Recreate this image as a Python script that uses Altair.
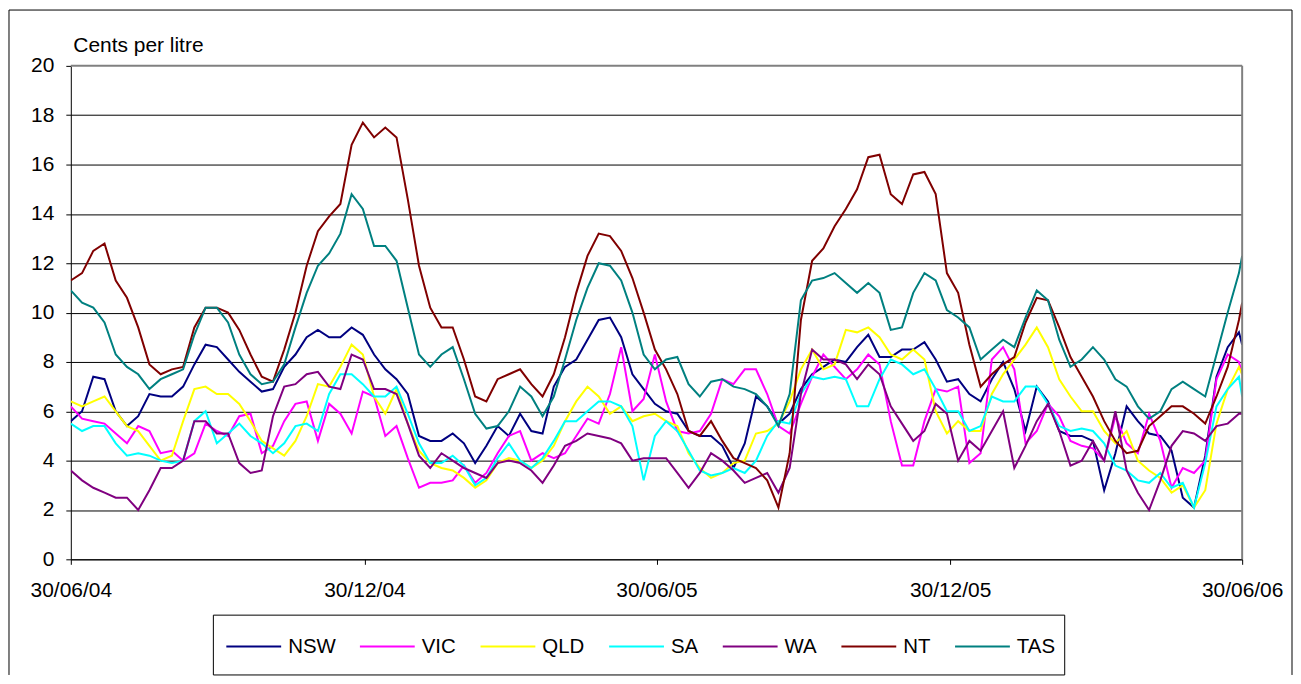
import altair as alt
import pandas as pd

# weekly readings from 30/06/2004, plus the final day 30/06/2006
dates = list(pd.date_range("2004-06-30", periods=105, freq="7D").strftime("%Y-%m-%d")) + ["2006-06-30"]

NSW = [5.6, 6.0, 7.4, 7.3, 6.0, 5.4, 5.8, 6.7, 6.6, 6.6, 7.0, 7.9, 8.7, 8.6, 8.1, 7.6, 7.2, 6.8, 6.9, 7.8,
       8.3, 9.0, 9.3, 9.0, 9.0, 9.4, 9.1, 8.3, 7.7, 7.3, 6.7, 5.0, 4.8, 4.8, 5.1, 4.7, 3.9, 4.6, 5.4, 5.0,
       5.9, 5.2, 5.1, 7.0, 7.8, 8.1, 8.9, 9.7, 9.8, 9.0, 7.5, 6.9, 6.3, 6.0, 5.9, 5.2, 5.0, 5.0, 4.6, 3.7,
       4.7, 6.6, 6.2, 5.5, 5.9, 6.9, 7.5, 7.8, 8.1, 8.0, 8.6, 9.1, 8.2, 8.2, 8.5, 8.5, 8.8, 8.1, 7.2, 7.3,
       6.7, 6.4, 7.3, 8.0, 6.9, 5.2, 7.0, 6.4, 5.2, 5.0, 5.0, 4.8, 2.8, 4.3, 6.2, 5.6, 5.1, 5.0, 4.4, 2.5,
       2.1, 4.2, 7.4, 8.6, 9.2, 8.7]
VIC = [6.2, 5.7, 5.6, 5.5, 5.1, 4.7, 5.4, 5.2, 4.3, 4.4, 4.0, 4.3, 5.5, 5.2, 5.0, 5.8, 5.9, 4.3, 4.6, 5.6,
       6.3, 6.4, 4.8, 6.3, 5.9, 5.1, 6.8, 6.6, 5.0, 5.4, 4.1, 2.9, 3.1, 3.1, 3.2, 3.8, 3.1, 3.5, 4.3, 5.0,
       5.2, 4.0, 4.3, 4.1, 4.3, 5.0, 5.7, 5.5, 6.7, 8.6, 6.0, 6.5, 8.3, 6.4, 5.2, 5.1, 5.2, 5.9, 7.3, 7.1,
       7.7, 7.7, 6.7, 5.4, 5.1, 6.3, 7.4, 8.3, 7.8, 7.3, 7.7, 8.3, 7.9, 5.6, 3.8, 3.8, 5.6, 6.9, 6.8, 7.0,
       3.9, 4.3, 8.1, 8.6, 7.7, 4.7, 5.2, 6.3, 5.8, 4.8, 4.6, 4.5, 4.0, 5.8, 4.7, 4.3, 5.9, 4.8, 2.9, 3.7,
       3.5, 4.0, 7.3, 8.3, 8.0, 7.5]
QLD = [6.4, 6.2, 6.4, 6.6, 6.0, 5.4, 5.2, 4.6, 4.0, 4.2, 5.6, 6.9, 7.0, 6.7, 6.7, 6.3, 5.6, 4.8, 4.5, 4.2,
       4.8, 5.8, 7.1, 7.0, 7.8, 8.7, 8.3, 6.6, 5.9, 6.9, 5.5, 4.4, 3.9, 3.7, 3.6, 3.3, 2.9, 3.2, 3.9, 4.1,
       4.0, 3.7, 4.0, 4.6, 5.6, 6.4, 7.0, 6.6, 5.9, 6.2, 5.6, 5.8, 5.9, 5.6, 5.4, 4.3, 3.7, 3.3, 3.5, 3.9,
       4.0, 5.1, 5.2, 5.5, 6.4, 7.7, 8.5, 7.7, 7.9, 9.3, 9.2, 9.4, 9.0, 8.3, 8.1, 8.5, 8.1, 6.0, 5.1, 5.6,
       5.2, 5.2, 6.7, 7.5, 8.1, 8.7, 9.4, 8.6, 7.3, 6.6, 6.0, 6.0, 5.2, 4.7, 5.2, 4.0, 3.6, 3.3, 2.7, 3.0,
       2.1, 2.8, 5.5, 6.9, 7.8, 7.5]
SA = [5.5, 5.2, 5.4, 5.4, 4.7, 4.2, 4.3, 4.2, 4.0, 3.9, 4.0, 5.6, 6.0, 4.7, 5.1, 5.5, 5.0, 4.7, 4.3, 4.7,
      5.4, 5.5, 5.2, 6.7, 7.5, 7.5, 7.1, 6.6, 6.6, 7.0, 5.9, 4.7, 3.9, 3.9, 4.2, 3.8, 3.0, 3.3, 4.1, 4.7,
      4.0, 3.7, 4.1, 4.8, 5.6, 5.6, 6.0, 6.4, 6.4, 6.2, 5.4, 3.2, 5.0, 5.6, 5.2, 4.4, 3.6, 3.4, 3.5, 3.7,
      3.5, 4.0, 5.0, 5.6, 5.5, 6.7, 7.4, 7.3, 7.4, 7.3, 6.2, 6.2, 7.3, 8.1, 7.9, 7.5, 7.7, 6.9, 6.0, 6.0,
      5.2, 5.4, 6.6, 6.4, 6.4, 7.0, 7.0, 6.3, 5.4, 5.2, 5.3, 5.2, 4.7, 3.8, 3.6, 3.2, 3.1, 3.5, 2.9, 3.1,
      2.1, 3.9, 6.2, 6.9, 7.4, 6.6]
WA = [3.6, 3.2, 2.9, 2.7, 2.5, 2.5, 2.0, 2.8, 3.7, 3.7, 4.0, 5.6, 5.6, 5.1, 5.1, 3.9, 3.5, 3.6, 5.8, 7.0,
      7.1, 7.5, 7.6, 7.0, 6.9, 8.3, 8.1, 6.9, 6.9, 6.7, 5.5, 4.2, 3.7, 4.3, 4.0, 3.7, 3.5, 3.3, 3.9, 4.0,
      3.9, 3.6, 3.1, 3.8, 4.6, 4.8, 5.1, 5.0, 4.9, 4.7, 4.0, 4.1, 4.1, 4.1, 3.5, 2.9, 3.5, 4.3, 4.0, 3.6,
      3.1, 3.3, 3.5, 2.7, 3.7, 6.7, 8.5, 8.1, 8.1, 7.9, 7.3, 7.9, 7.5, 6.2, 5.5, 4.8, 5.2, 6.3, 5.9, 4.0,
      4.8, 4.4, 5.2, 6.0, 3.7, 4.6, 5.6, 6.3, 5.2, 3.8, 4.0, 4.8, 4.0, 6.0, 3.6, 2.7, 2.0, 3.2, 4.6, 5.2,
      5.1, 4.8, 5.4, 5.5, 5.9, 5.9]
NT = [11.3, 11.6, 12.5, 12.8, 11.3, 10.6, 9.4, 7.9, 7.5, 7.7, 7.8, 9.4, 10.2, 10.2, 10.0, 9.3, 8.3, 7.4, 7.2, 8.5,
      10.0, 11.9, 13.3, 13.9, 14.4, 16.8, 17.7, 17.1, 17.5, 17.1, 14.6, 11.9, 10.2, 9.4, 9.4, 8.1, 6.6, 6.4, 7.3, 7.5,
      7.7, 7.1, 6.6, 7.5, 9.0, 10.8, 12.3, 13.2, 13.1, 12.5, 11.4, 10.0, 8.5, 7.7, 6.7, 5.2, 5.0, 5.6, 4.8, 4.1,
      3.9, 3.7, 3.2, 2.1, 4.3, 9.7, 12.1, 12.6, 13.5, 14.2, 15.0, 16.3, 16.4, 14.8, 14.4, 15.6, 15.7, 14.8, 11.6, 10.8,
      8.7, 7.0, 7.5, 7.9, 8.2, 9.6, 10.6, 10.5, 9.4, 8.2, 7.4, 6.6, 5.6, 4.8, 4.3, 4.4, 5.4, 5.8, 6.2, 6.2,
      5.9, 5.5, 6.6, 7.8, 9.7, 10.4]
TAS = [10.9, 10.4, 10.2, 9.6, 8.3, 7.8, 7.5, 6.9, 7.3, 7.5, 7.7, 9.1, 10.2, 10.2, 9.6, 8.3, 7.5, 7.1, 7.2, 7.9,
       9.4, 10.8, 11.9, 12.4, 13.2, 14.8, 14.2, 12.7, 12.7, 12.1, 10.2, 8.3, 7.8, 8.3, 8.6, 7.3, 5.9, 5.3, 5.4, 6.0,
       7.0, 6.6, 5.8, 6.6, 8.1, 9.7, 11.0, 12.0, 11.9, 11.3, 10.0, 8.3, 7.7, 8.1, 8.2, 7.1, 6.6, 7.2, 7.3, 7.0,
       6.9, 6.7, 6.2, 5.4, 6.7, 10.5, 11.3, 11.4, 11.6, 11.2, 10.8, 11.2, 10.8, 9.3, 9.4, 10.8, 11.6, 11.3, 10.1, 9.8,
       9.4, 8.1, 8.5, 8.9, 8.6, 9.8, 10.9, 10.5, 8.9, 7.8, 8.1, 8.6, 8.1, 7.3, 7.0, 6.2, 5.7, 6.0, 6.9, 7.2,
       6.9, 6.6, 8.3, 10.0, 11.6, 12.3]

series = ["NSW", "VIC", "QLD", "SA", "WA", "NT", "TAS"]
colors = ["#000080", "#FF00FF", "#FFFF00", "#00FFFF", "#800080", "#800000", "#008080"]
values = [NSW, VIC, QLD, SA, WA, NT, TAS]

y_ticks = list(range(0, 21, 2))
x_ticks = ["2004-06-30", "2004-12-30", "2005-06-30", "2005-12-30", "2006-06-30"]

rows = []
for name, vals in zip(series, values):
    for d, v in zip(dates, vals):
        rows.append({"date": d, "state": name, "value": v})
df = pd.DataFrame(rows)

W, H = 1175, 495
FONT = "Liberation Sans"
FS = 21


def dt(s):
    y, m, d = (int(p) for p in s.split("-"))
    return alt.DateTime(year=y, month=m, date=d, utc=True)


lines = alt.Chart(df).mark_line(strokeWidth=2, clip=True).encode(
    x=alt.X(
        "date:T",
        scale=alt.Scale(type="utc", domain=[dt(x_ticks[0]), dt(x_ticks[-1])]),
        axis=alt.Axis(
            values=[dt(s) for s in x_ticks],
            labelExpr="utcFormat(datum.value, '%d/%m/%y')",
            title=None,
            grid=False,
            domainColor="black",
            domainWidth=1,
            tickColor="black",
            tickSize=5,
            labelFont=FONT,
            labelFontSize=FS,
            labelColor="black",
            labelPadding=15,
            labelAngle=0,
            labelFlush=False,
            labelOverlap=False,
        ),
    ),
    y=alt.Y(
        "value:Q",
        scale=alt.Scale(domain=[0, 20], nice=False),
        axis=alt.Axis(
            values=y_ticks,
            title="Cents per litre",
            titleAngle=0,
            titleX=2,
            titleY=-14,
            titleAlign="left",
            titleBaseline="alphabetic",
            titleFont=FONT,
            titleFontSize=FS,
            titleFontWeight="normal",
            titleColor="black",
            grid=True,
            gridColor="black",
            gridWidth=1,
            gridOpacity={"condition": {"test": "datum.value >= 20", "value": 0}, "value": 1},
            domainColor="black",
            domainWidth=1,
            tickColor="black",
            tickSize=5,
            labelFont=FONT,
            labelFontSize=FS,
            labelColor="black",
            labelPadding=12,
        ),
    ),
    color=alt.Color(
        "state:N",
        scale=alt.Scale(domain=series, range=colors),
        sort=series,
        legend=alt.Legend(
            orient="none",
            legendX=155,
            legendY=554,
            direction="horizontal",
            columns=7,
            title=None,
            symbolType="stroke",
            symbolSize=3025,
            symbolStrokeWidth=2,
            labelFont=FONT,
            labelFontSize=20.5,
            labelColor="black",
            labelOffset=6,
            columnPadding=20,
            padding=0,
        ),
    ),
)

one = alt.Data(values=[{"k": 1}])

plot_top = alt.Chart(one).mark_rule(color="#808080", strokeWidth=2).encode(
    x=alt.value(0), x2=alt.value(W), y=alt.value(0))
plot_right = alt.Chart(one).mark_rule(color="#808080", strokeWidth=2).encode(
    x=alt.value(W), y=alt.value(0), y2=alt.value(H))

legend_box = alt.Chart(one).mark_rect(fill="white", stroke="black", strokeWidth=1).encode(
    x=alt.value(143), x2=alt.value(997), y=alt.value(551), y2=alt.value(611))

frame_left = alt.Chart(one).mark_rule(color="black", strokeWidth=1).encode(
    x=alt.value(-62), y=alt.value(-56), y2=alt.value(611))
frame_right = alt.Chart(one).mark_rule(color="black", strokeWidth=1).encode(
    x=alt.value(1225), y=alt.value(-56), y2=alt.value(611))
frame_top = alt.Chart(one).mark_rule(color="black", strokeWidth=1).encode(
    x=alt.value(-62), x2=alt.value(1225), y=alt.value(-56))

chart = alt.layer(
    frame_left, frame_right, frame_top, legend_box, lines, plot_top, plot_right
).properties(
    width=W, height=H, padding=0, background="white"
).configure_view(stroke=None)

chart.save("out.html", embed_options={"renderer": "svg", "actions": False})
